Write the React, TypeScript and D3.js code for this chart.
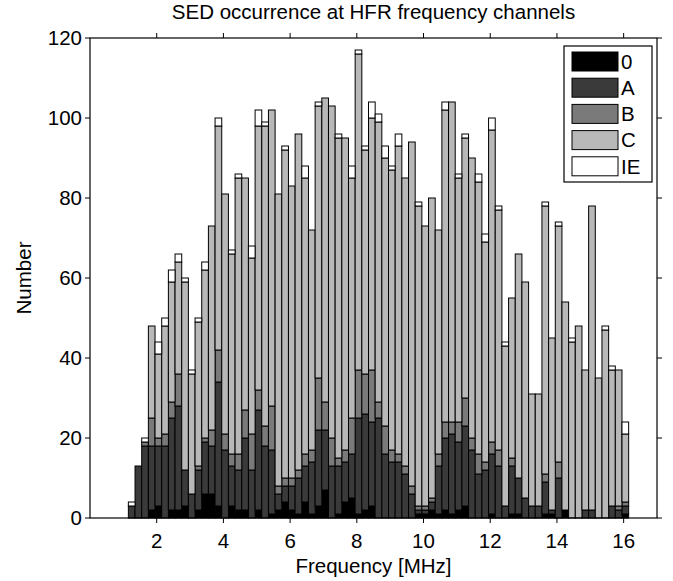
import React from "react";
import * as d3 from "d3";

const freqs = [
  1.25, 1.45, 1.65, 1.85, 2.05, 2.25, 2.45, 2.65, 2.85, 3.05,
  3.25, 3.45, 3.65, 3.85, 4.05, 4.25, 4.45, 4.65, 4.85, 5.05,
  5.25, 5.45, 5.65, 5.85, 6.05, 6.25, 6.45, 6.65, 6.85, 7.05,
  7.25, 7.45, 7.65, 7.85, 8.05, 8.25, 8.45, 8.65, 8.85, 9.05,
  9.25, 9.45, 9.65, 9.85, 10.05, 10.25, 10.45, 10.65, 10.85, 11.05,
  11.25, 11.45, 11.65, 11.85, 12.05, 12.25, 12.45, 12.65, 12.85, 13.05,
  13.25, 13.45, 13.65, 13.85, 14.05, 14.25, 14.45, 14.65, 14.85, 15.05,
  15.25, 15.45, 15.65, 15.85, 16.05,
];

const cls0 = [
  0, 0, 0, 2, 3, 0, 2, 2, 3, 0, 2, 6, 6, 3, 0, 3, 2, 2, 0, 2,
  0, 1, 2, 4, 2, 1, 4, 1, 3, 7, 0, 1, 4, 5, 1, 2, 3, 0, 0, 0,
  0, 0, 0, 1, 1, 2, 1, 2, 1, 2, 3, 0, 0, 0, 1, 0, 0, 1, 1, 0,
  0, 0, 1, 1, 0, 2, 0, 0, 0, 0, 0, 0, 0, 0, 1,
];
const clsA = [
  3, 13, 18, 16, 15, 18, 23, 26, 9, 6, 10, 13, 12, 31, 17, 10, 10, 18, 12, 25,
  18, 16, 4, 4, 6, 9, 9, 13, 19, 15, 13, 12, 10, 11, 24, 24, 21, 25, 16, 14,
  14, 11, 6, 1, 1, 2, 12, 18, 20, 17, 20, 17, 11, 12, 15, 13, 3, 12, 9, 5,
  3, 3, 8, 1, 10, 0, 0, 0, 2, 2, 0, 0, 3, 2, 2,
];
const clsB = [
  0, 0, 1, 7, 2, 3, 4, 8, 0, 0, 1, 1, 4, 8, 4, 3, 4, 7, 9, 5,
  5, 11, 2, 2, 2, 2, 3, 3, 13, 7, 7, 2, 3, 9, 12, 10, 13, 4, 7, 3,
  2, 2, 2, 1, 1, 1, 3, 4, 3, 5, 7, 3, 5, 2, 3, 4, 0, 2, 0, 0,
  0, 0, 2, 0, 4, 0, 0, 0, 0, 0, 0, 0, 0, 1, 1,
];
const clsC = [
  0, 0, 0, 23, 21, 27, 30, 28, 47, 30, 36, 42, 51, 56, 60, 50, 69, 58, 44, 66,
  75, 74, 73, 82, 73, 84, 69, 55, 68, 76, 83, 80, 78, 60, 79, 56, 63, 70, 67, 70,
  77, 72, 86, 75, 70, 75, 56, 78, 80, 61, 65, 70, 68, 55, 78, 60, 40, 40, 56, 54,
  28, 28, 67, 43, 59, 52, 44, 48, 35, 76, 35, 47, 34, 34, 17,
];
const clsIE = [
  1, 0, 1, 0, 3, 2, 3, 2, 1, 1, 1, 2, 0, 2, 0, 1, 1, 0, 3, 4,
  1, 0, 0, 1, 0, 0, 3, 0, 1, 0, 0, 1, 0, 3, 1, 1, 4, 2, 3, 1,
  3, 0, 0, 1, 0, 0, 0, 2, 0, 1, 1, 0, 2, 2, 3, 1, 1, 0, 0, 0,
  0, 0, 1, 0, 1, 0, 1, 0, 0, 0, 0, 1, 1, 0, 3,
];

const seriesKeys = ["0", "A", "B", "C", "IE"];
const seriesColors = ["#000000", "#3a3a3a", "#7a7a7a", "#b8b8b8", "#ffffff"];
const xTicks = [2, 4, 6, 8, 10, 12, 14, 16];
const yTicks = [0, 20, 40, 60, 80, 100, 120];
const binWidth = 0.2;

const W = 673;
const H = 581;
const left = 90;
const right = 657;
const top = 38;
const bottom = 518;
const FONT = "'Liberation Sans', Arial, Helvetica, sans-serif";

export default function App() {
  const x = d3.scaleLinear().domain([0, 17]).range([left, right]);
  const y = d3.scaleLinear().domain([0, 120]).range([bottom, top]);
  const rows = freqs.map((f, i) => ({
    f,
    "0": cls0[i],
    A: clsA[i],
    B: clsB[i],
    C: clsC[i],
    IE: clsIE[i],
  }));
  const stacked = d3.stack<any>().keys(seriesKeys)(rows);
  const tl = 5;
  const fs = 20.5;

  return (
    <svg
      width={W}
      height={H}
      style={{ position: "absolute", left: 0, top: 0, background: "#fff" }}
      fontFamily={FONT}
    >
      <rect x={0} y={0} width={W} height={H} fill="#fff" />
      {stacked.map((layer, li) => (
        <g key={layer.key} fill={seriesColors[li]} stroke="#000" strokeWidth={1}>
          {layer.map((d, i) => {
            const h = y(d[0]) - y(d[1]);
            if (h <= 0) return null;
            const f = rows[i].f;
            return (
              <rect
                key={i}
                x={x(f - binWidth / 2)}
                y={y(d[1])}
                width={x(f + binWidth / 2) - x(f - binWidth / 2)}
                height={h}
              />
            );
          })}
        </g>
      ))}
      <rect x={left} y={top} width={right - left} height={bottom - top} fill="none" stroke="#000" strokeWidth={1.2} />
      {xTicks.map((t) => (
        <g key={"x" + t}>
          <line x1={x(t)} x2={x(t)} y1={bottom} y2={bottom + tl} stroke="#000" />
          <line x1={x(t)} x2={x(t)} y1={top} y2={top - tl} stroke="#000" />
          <text x={x(t)} y={bottom + 30} fontSize={fs} textAnchor="middle">
            {t}
          </text>
        </g>
      ))}
      {yTicks.map((t) => (
        <g key={"y" + t}>
          <line x1={left - tl} x2={left} y1={y(t)} y2={y(t)} stroke="#000" />
          <line x1={right} x2={right + tl} y1={y(t)} y2={y(t)} stroke="#000" />
          <text x={left - 8} y={y(t)} dy="0.36em" fontSize={fs} textAnchor="end">
            {t}
          </text>
        </g>
      ))}
      <text x={(left + right) / 2} y={19} fontSize={fs} textAnchor="middle">
        SED occurrence at HFR frequency channels
      </text>
      <text x={(left + right) / 2} y={573} fontSize={fs} textAnchor="middle">
        Frequency [MHz]
      </text>
      <text
        transform={`translate(31,${(top + bottom) / 2}) rotate(-90)`}
        fontSize={fs}
        textAnchor="middle"
      >
        Number
      </text>
      <g>
        <rect x={564} y={46} width={88} height={136} fill="#fff" stroke="#000" strokeWidth={1.2} />
        {seriesKeys.map((k, i) => (
          <g key={k}>
            <rect x={572} y={52 + i * 26.2} width={46} height={19} fill={seriesColors[i]} stroke="#000" strokeWidth={1} />
            <text x={621} y={52 + i * 26.2 + 9.5} dy="0.36em" fontSize={fs}>
              {k}
            </text>
          </g>
        ))}
      </g>
    </svg>
  );
}
